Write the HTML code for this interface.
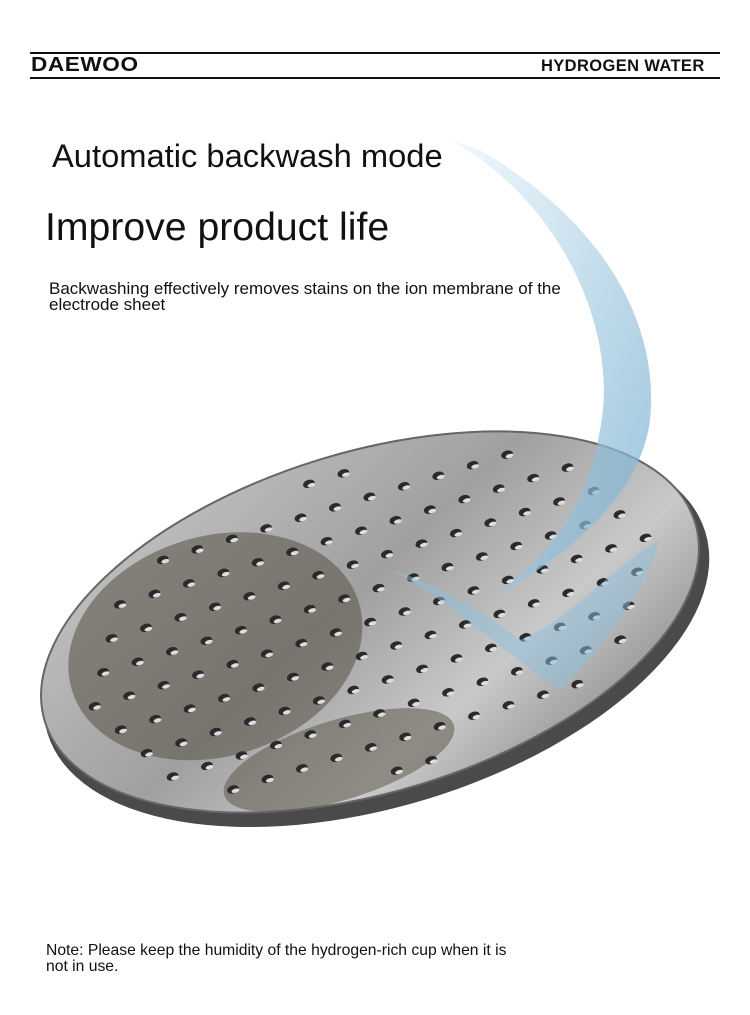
<!DOCTYPE html>
<html><head><meta charset="utf-8"><style>
body{margin:0;background:#fff;width:750px;height:1015px;overflow:hidden;position:relative;font-family:"Liberation Sans",sans-serif}
.t{position:absolute;color:#111;white-space:nowrap}
</style></head><body>
<div style="position:absolute;left:30px;top:52px;width:690px;height:2px;background:#111"></div>
<div style="position:absolute;left:30px;top:77px;width:690px;height:2px;background:#111"></div>
<div class="t" style="left:31px;top:54px;font-size:20px;font-weight:900;letter-spacing:0.5px;transform:scaleX(1.13);transform-origin:left">DAEWOO</div>
<div class="t" style="left:541px;top:56px;font-size:17px;font-weight:bold;letter-spacing:0.4px;transform:scaleX(0.97);transform-origin:left">HYDROGEN WATER</div>
<div class="t" style="left:52px;top:137px;font-size:32.7px">Automatic backwash mode</div>
<div class="t" style="left:45px;top:206px;font-size:39.2px">Improve product life</div>
<div class="t" style="left:49px;top:281px;font-size:17px;line-height:16px">Backwashing effectively removes stains on the ion membrane of the<br>electrode sheet</div>
<div class="t" style="left:46px;top:943px;font-size:15.7px;line-height:16px">Note: Please keep the humidity of the hydrogen-rich cup when it is<br>not in use.</div>
<svg width="750" height="1015" style="position:absolute;left:0;top:0">
<defs>
<linearGradient id="g" x1="0" y1="0" x2="1" y2="1">
<stop offset="0" stop-color="#c8c8c8"/><stop offset=".45" stop-color="#a0a0a0"/><stop offset=".7" stop-color="#c9c9c9"/><stop offset="1" stop-color="#7a7a7a"/></linearGradient>
<linearGradient id="w" x1="0" y1="0" x2="1" y2="1">
<stop offset="0" stop-color="#eef7fc"/><stop offset="1" stop-color="#6aa8cc"/></linearGradient>
</defs>
<g transform="rotate(-17 370 622)">
<ellipse cx="373" cy="634" rx="344" ry="174" fill="#4a4a4a"/>
<ellipse cx="370" cy="622" rx="340" ry="170" fill="url(#g)" stroke="#666" stroke-width="2"/>
<ellipse cx="215" cy="600" rx="150" ry="110" fill="#5e574c" opacity=".6"/>
<ellipse cx="300" cy="745" rx="120" ry="40" fill="#5e574c" opacity=".55"/>
<g id="h"></g>
</g>
<path d="M450 140 C560 200 620 330 600 430 C585 520 540 560 490 600 C560 560 640 500 650 420 C660 320 600 220 480 150Z" fill="url(#w)" opacity=".7"/>
<path d="M390 570 C450 600 500 650 560 690 C600 650 640 600 660 540 C620 560 570 620 520 640 C480 610 430 580 390 570Z" fill="#8cc0de" opacity=".5"/>
</svg>
<script>
var h=document.getElementById('h'),s='';
for(var r=-5;r<=5;r++)for(var c=-9;c<=9;c++){var x=370+c*36+(r%2?18:0),y=622+r*30;
var dx=(x-370)/325,dy=(y-622)/160;if(dx*dx+dy*dy<0.9)s+='<ellipse cx="'+x+'" cy="'+y+'" rx="6" ry="4" fill="#2a2a2a"/><ellipse cx="'+(x+2)+'" cy="'+(y+2)+'" rx="4" ry="2" fill="#ddd"/>';}
h.innerHTML=s;
</script>
</body></html>
